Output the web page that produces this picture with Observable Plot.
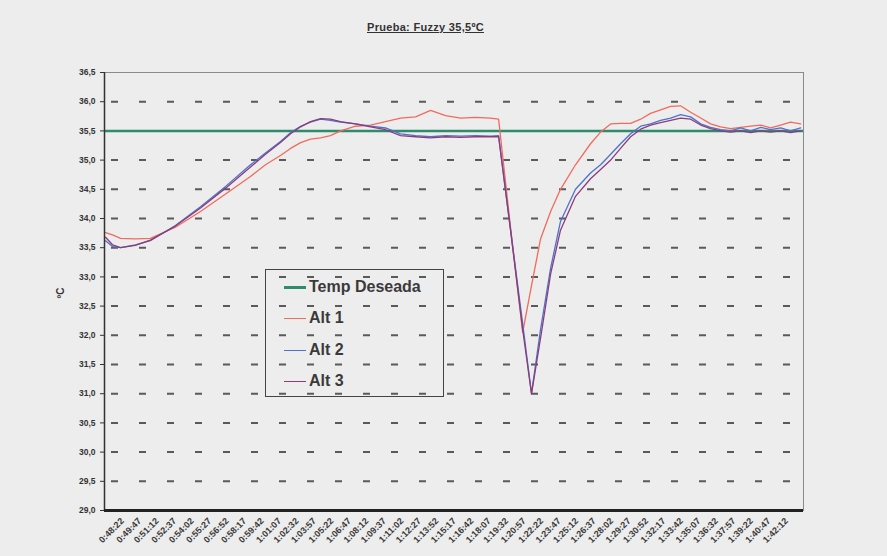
<!DOCTYPE html>
<html><head><meta charset="utf-8">
<script src="https://cdn.jsdelivr.net/npm/d3@7"></script>
<script src="https://cdn.jsdelivr.net/npm/@observablehq/plot@0.6"></script>
<style>
html,body{margin:0;padding:0;background:#ededed;}
#wrap{position:relative;width:887px;height:556px;overflow:hidden;font-family:"Liberation Sans",Arial,sans-serif;background:#ededed;}
#title{position:absolute;left:0;width:851px;top:21px;text-align:center;font-weight:bold;font-size:11px;color:#333;text-decoration:underline;letter-spacing:0.3px;}
#ylab{position:absolute;left:52px;top:286px;width:18px;height:14px;line-height:14px;text-align:center;font-weight:bold;font-size:10px;color:#333;transform:rotate(-90deg);}
#chart{position:absolute;left:0;top:0;}
#legend{position:absolute;left:265px;top:269px;width:179px;height:128px;border:1.5px solid #444;box-sizing:border-box;}
.item{position:absolute;left:18px;font-size:16px;font-weight:bold;color:#3a3a3a;height:20px;line-height:20px;}
.sw{display:inline-block;width:22px;vertical-align:middle;margin-right:3px;}
</style></head>
<body>
<div id="wrap">
  <div id="title">Prueba: Fuzzy 35,5ºC</div>
  <div id="chart"></div>
  <div id="ylab">ºC</div>
  <div id="legend"></div>
</div>
<script>
// elapsed seconds (time axis)
const t = [-37, -3, 36, 108, 181, 303, 425, 547, 668, 741, 814, 863, 912, 960, 1009, 1057, 1106, 1179, 1252, 1325, 1398, 1471, 1544, 1617, 1690, 1763, 1836, 1875, 1933, 1992, 2035, 2079, 2128, 2176, 2249, 2322, 2371, 2420, 2468, 2517, 2566, 2614, 2663, 2712, 2760, 2809, 2858, 2906, 2955, 3004, 3052, 3101, 3150, 3198, 3247, 3295, 3344];
const alt1 = [33.76, 33.72, 33.66, 33.65, 33.66, 33.85, 34.12, 34.42, 34.72, 34.92, 35.08, 35.20, 35.30, 35.36, 35.38, 35.42, 35.50, 35.58, 35.60, 35.66, 35.72, 35.74, 35.85, 35.76, 35.72, 35.73, 35.72, 35.70, 33.85, 32.05, 32.85, 33.65, 34.12, 34.50, 34.92, 35.28, 35.48, 35.62, 35.63, 35.63, 35.70, 35.80, 35.86, 35.92, 35.93, 35.82, 35.72, 35.62, 35.57, 35.54, 35.56, 35.58, 35.60, 35.55, 35.60, 35.65, 35.62];
const alt2 = [33.62, 33.52, 33.50, 33.55, 33.62, 33.88, 34.20, 34.55, 34.92, 35.12, 35.32, 35.47, 35.58, 35.65, 35.70, 35.68, 35.65, 35.62, 35.58, 35.55, 35.45, 35.42, 35.40, 35.42, 35.41, 35.42, 35.41, 35.42, 33.81, 32.20, 31.00, 32.10, 33.15, 33.95, 34.50, 34.78, 34.92, 35.10, 35.28, 35.45, 35.58, 35.62, 35.68, 35.72, 35.78, 35.74, 35.62, 35.56, 35.52, 35.50, 35.55, 35.50, 35.56, 35.52, 35.55, 35.50, 35.55];
const alt3 = [33.68, 33.55, 33.50, 33.54, 33.63, 33.87, 34.18, 34.52, 34.88, 35.10, 35.30, 35.45, 35.57, 35.66, 35.71, 35.70, 35.66, 35.62, 35.57, 35.52, 35.42, 35.40, 35.38, 35.40, 35.39, 35.40, 35.40, 35.40, 33.80, 32.10, 31.00, 31.95, 33.05, 33.80, 34.38, 34.68, 34.84, 35.00, 35.20, 35.40, 35.53, 35.60, 35.64, 35.68, 35.72, 35.70, 35.60, 35.54, 35.50, 35.48, 35.50, 35.47, 35.50, 35.48, 35.50, 35.47, 35.50];
const tempDeseada = 35.5;
const seriesNames = ["Temp Deseada", "Alt 1", "Alt 2", "Alt 3"];
const seriesColors = ["#2e8b6c", "#f26a5c", "#4d72cf", "#8c3d78"];
const yTicks = [29.0, 29.5, 30.0, 30.5, 31.0, 31.5, 32.0, 32.5, 33.0, 33.5, 34.0, 34.5, 35.0, 35.5, 36.0, 36.5];
const gridVals = [29.5, 30.0, 30.5, 31.0, 31.5, 32.0, 32.5, 33.0, 33.5, 34.0, 34.5, 35.0, 35.5, 36.0];
const tickSecs = [45, 130, 215, 300, 385, 470, 555, 640, 725, 810, 895, 980, 1065, 1150, 1235, 1320, 1405, 1490, 1575, 1660, 1745, 1830, 1915, 2000, 2085, 2170, 2255, 2340, 2425, 2510, 2595, 2680, 2765, 2850, 2935, 3020, 3105, 3190, 3275];
const tickLabels = ["0:48:22","0:49:47","0:51:12","0:52:37","0:54:02","0:55:27","0:56:52","0:58:17","0:59:42","1:01:07","1:02:32","1:03:57","1:05:22","1:06:47","1:08:12","1:09:37","1:11:02","1:12:27","1:13:52","1:15:17","1:16:42","1:18:07","1:19:32","1:20:57","1:22:22","1:23:47","1:25:12","1:26:37","1:28:02","1:29:27","1:30:52","1:32:17","1:33:42","1:35:07","1:36:32","1:37:57","1:39:22","1:40:47","1:42:12"];

const rows = [];
[alt1, alt2, alt3].forEach((arr, k) => arr.forEach((v, i) => rows.push({t: t[i], v, s: seriesNames[k + 1]})));

const chart = Plot.plot({
  width: 887, height: 556,
  marginTop: 72, marginBottom: 46, marginLeft: 104, marginRight: 84,
  style: {background: "transparent", fontFamily: "Liberation Sans, Arial, sans-serif", overflow: "visible"},
  x: {domain: [-42, 3358]},
  y: {domain: [29, 36.5]},
  color: {domain: seriesNames, range: seriesColors},
  marks: [
    Plot.ruleY(gridVals, {stroke: "#5a5a5a", strokeWidth: 2, strokeDasharray: "7,21", strokeDashoffset: 21}),
    Plot.frame({stroke: "#8a8a8a", strokeWidth: 1}),
    Plot.ruleY([tempDeseada], {stroke: seriesColors[0], strokeWidth: 2.5}),
    Plot.line(rows, {x: "t", y: "v", z: "s", stroke: "s", strokeWidth: 1.3}),
    Plot.ruleX([-42], {stroke: "#333", strokeWidth: 1.5}),
    Plot.ruleY([29], {stroke: "#222", strokeWidth: 3}),
    Plot.axisY({ticks: yTicks, tickFormat: d => d.toFixed(1).replace(".", ","), tickSize: 4, tickPadding: 5,
      fontSize: 8.5, fontWeight: "bold", color: "#333", label: null}),
    Plot.axisX({ticks: tickSecs, tickFormat: (d, i) => tickLabels[i], tickRotate: -45, tickSize: 0, tickPadding: 9,
      fontSize: 9, fontWeight: "bold", color: "#3a3a3a", label: null})
  ]
});
document.getElementById("chart").appendChild(chart);

const lg = document.getElementById("legend");
const rowsY = [7, 38, 70, 101];
seriesNames.forEach((n, i) => {
  const d = document.createElement("div");
  d.className = "item";
  d.style.top = rowsY[i] + "px";
  d.innerHTML = `<span class="sw" style="border-top:${i === 0 ? 3 : 1.5}px solid ${seriesColors[i]}"></span>${n}`;
  lg.appendChild(d);
});
</script>
</body></html>
